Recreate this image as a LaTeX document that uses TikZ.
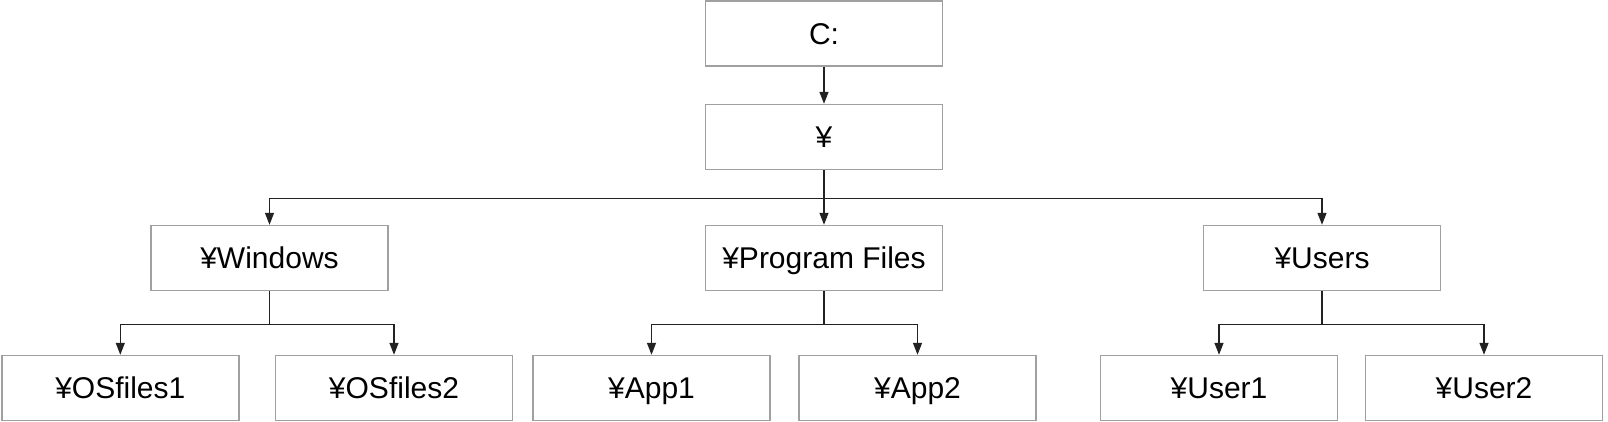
\documentclass[tikz,border=0pt]{standalone}
\usepackage{fontspec}
\setmainfont{Liberation Sans}
\usetikzlibrary{arrows.meta,calc}
\definecolor{boxgray}{HTML}{A0A0A0}
\definecolor{linedark}{HTML}{222222}
\begin{document}
\begin{tikzpicture}[x=1pt,y=1pt,
  box/.style={draw=boxgray,line width=1.4pt,minimum width=237pt,minimum height=65pt,inner sep=0pt,text height=21.5pt,text depth=0pt,font=\fontsize{30}{36}\selectfont,text=black},
  conn/.style={draw=linedark,line width=1.4pt},
  arr/.style={conn,-{Triangle[length=12pt,width=9pt]}}]
\useasboundingbox (0,0) rectangle (1608,422);
\node[box] (c) at (824,388.5) {C:};
\node[box] (yen) at (824,285) {¥};
\node[box] (win) at (269.5,164) {¥Windows};
\node[box] (pf) at (824,164) {¥Program Files};
\node[box] (usr) at (1322,164) {¥Users};
\node[box] (os1) at (120.3,34) {¥OSfiles1};
\node[box] (os2) at (394,34) {¥OSfiles2};
\node[box] (app1) at (651.5,34) {¥App1};
\node[box] (app2) at (917.5,34) {¥App2};
\node[box] (u1) at (1219,34) {¥User1};
\node[box] (u2) at (1484,34) {¥User2};
\draw[arr] (c) -- (yen);
\coordinate (b0) at ($(yen.south)+(0,-28.5)$);
\draw[arr] (yen.south) -- (pf.north);
\draw[arr] (b0) -| (win.north);
\draw[arr] (b0) -| (usr.north);
\coordinate (b1) at ($(win.south)+(0,-33.3)$);
\draw[conn] (win.south) -- (b1);
\draw[arr] (b1) -| (os1.north);
\draw[arr] (b1) -| (os2.north);
\coordinate (b2) at ($(pf.south)+(0,-33.3)$);
\draw[conn] (pf.south) -- (b2);
\draw[arr] (b2) -| (app1.north);
\draw[arr] (b2) -| (app2.north);
\coordinate (b3) at ($(usr.south)+(0,-33.3)$);
\draw[conn] (usr.south) -- (b3);
\draw[arr] (b3) -| (u1.north);
\draw[arr] (b3) -| (u2.north);
\end{tikzpicture}
\end{document}
